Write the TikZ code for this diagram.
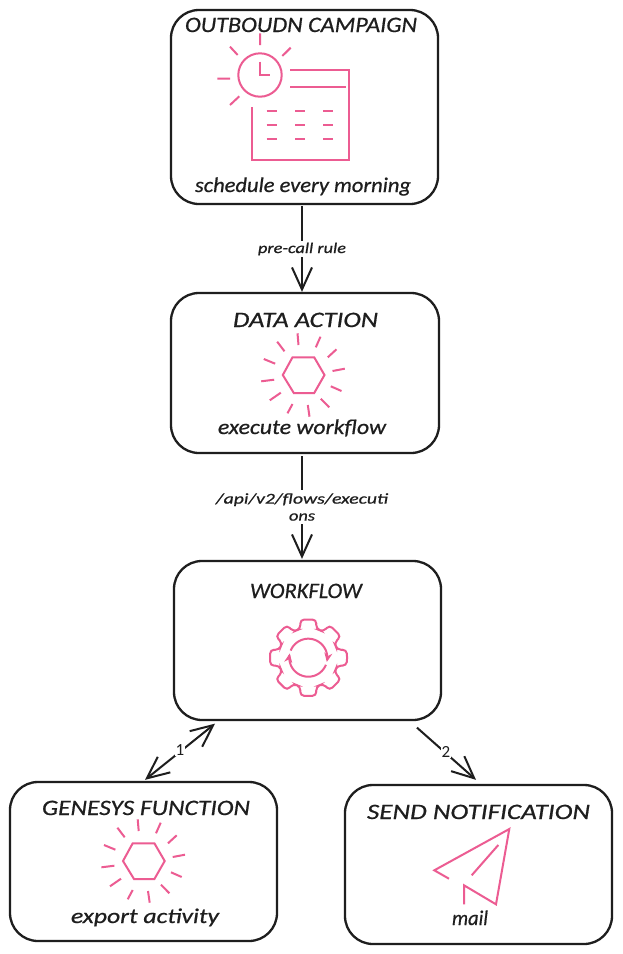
\documentclass[tikz,border=0pt]{standalone}
\usepackage{fontspec}
\usepackage{graphicx}
\setmainfont{Carlito}
\usetikzlibrary{arrows.meta,calc}
\definecolor{ink}{HTML}{1E1E1E}
\definecolor{rosy}{HTML}{EC5C92}
\newcommand{\fitw}[3]{\fontsize{#2}{#2}\selectfont\itshape\addfontfeature{FakeBold=0.6}\resizebox{#1pt}{\height}{#3}}
\tikzset{
  x=1pt,y=-1pt,
  card/.style={draw=ink,line width=2.3pt,rounded corners=28pt,fill=white,inner sep=0pt,minimum width=267pt,minimum height=#1},
  txt/.style={text=ink,inner sep=0pt,anchor=base},
  lbl/.style={text=ink,fill=white,inner sep=1.5pt,align=center},
  conn/.style={draw=ink,line width=2pt},
  tipa/.style={-{Straight Barb[length=22pt,width=20pt,line width=2pt]}},
  tipb/.style={{Straight Barb[length=22pt,width=20pt,line width=2pt]}-{Straight Barb[length=22pt,width=20pt,line width=2pt]}},
  ico/.style={draw=rosy,line width=2pt},
  burst/.pic={
    \draw[ico] (-20.7,0)--(-11,-17.7)--(10.7,-17.7)--(21,0)--(10.7,18)--(-9.7,18)--cycle;
    \draw[ico] (-6,-41.7)--(-5,-30) (17,-38.3)--(12.3,-27.7) (33,-25.7)--(24.3,-17.7)
      (41.3,-6.3)--(29,-4) (38,16)--(27.3,11.3) (25.7,32.3)--(17.3,23.7)
      (6,41.7)--(4.3,30) (-16,38.3)--(-11,29) (-33.7,25.3)--(-22.7,17.7)
      (-42.3,6.3)--(-29.3,4.7) (-39.7,-16)--(-28.3,-11.3) (-26.3,-33.3)--(-19,-23.7);
  }
}
\begin{document}
\begin{tikzpicture}
\path[use as bounding box,fill=white] (0,0) rectangle (622,954);
% boxes
\node[card=194pt] (camp) at (304.5,107) {};
\node[card=160pt,minimum width=268pt] (act) at (305,373) {};
\node[card=159pt] (wf) at (307.5,640.5) {};
\node[card=159pt] (gen) at (143.5,861.5) {};
\node[card=159pt] (send) at (478.5,864.5) {};
% connectors
\draw[conn,tipa] ($(camp.south)+(-2.5,1)$) -- ($(act.north)+(-3,0)$);
\draw[conn,tipa] ($(act.south)+(-3,2)$) -- ($(wf.north)+(-5.5,-1)$);
\draw[conn,tipb] ($(gen.north)+(1.5,-1)$) -- ($(wf.south)+(-92.5,2.5)$);
\draw[conn,tipa] ($(wf.south)+(109.5,6.5)$) -- ($(send.north)+(-2.5,-4)$);
% connector labels
\node[lbl] (l1) at (302,249) {\fitw{88}{15}{pre-call rule}};
\node[lbl,inner ysep=3pt] (l2) at (302,507) {\fitw{172}{15}{/api/v2/flows/executi}\\[5pt]\fitw{26}{15}{ons}};
\node[lbl,inner sep=0.5pt] (l3) at (180,750) {\fontsize{17}{17}\selectfont 1};
\node[lbl,inner sep=0.5pt] (l4) at (446,752) {\fontsize{17}{17}\selectfont 2};
% titles
\node[txt] (t1) at (301,32) {\fitw{232}{22}{OUTBOUDN CAMPAIGN}};
\node[txt] (s1) at (303,192) {\fitw{216}{21}{schedule every morning}};
\node[txt] (t2) at (305.5,327) {\fitw{145}{22}{DATA ACTION}};
\node[txt] (s2) at (302,434) {\fitw{168}{21}{execute workflow}};
\node[txt] (t3) at (306,598) {\fitw{112}{22}{WORKFLOW}};
\node[txt] (t4) at (146,815) {\fitw{208}{22}{GENESYS FUNCTION}};
\node[txt] (s4) at (145,923) {\fitw{148}{21}{export activity}};
\node[txt] (t5) at (478.5,819) {\fitw{223}{22}{SEND NOTIFICATION}};
\node[txt] (s5) at (470,925) {\fitw{36}{21}{mail}};
% clock + calendar
\draw[ico] (260,75) circle[radius=21.7pt];
\draw[ico] (260,61.7)--(260,75)--(270,75);
\draw[ico] (260,33.3)--(260,45) (230,46.7)--(237.7,55) (290.7,47.7)--(282.3,56)
  (217.3,78.7)--(230,78.7) (230,105)--(239.3,96.3);
\draw[ico] (290,70)--(349.3,70)--(349.3,160)--(252,160)--(252,107.3);
\draw[ico] (290,86.7)--(346,86.7);
\foreach \yy in {110.7,125,139}{
  \draw[ico] (266.7,\yy)--(276.7,\yy) (295,\yy)--(305,\yy) (323.3,\yy)--(333.3,\yy);
}
% bursts
\pic at (303.5,375) {burst};
\pic at (143.7,861) {burst};
% gear
\begin{scope}[shift={(308.3,657.7)}]
\draw[ico,rounded corners=4pt] (0:39)
  \foreach \a in {0,45,...,315}{
    -- (\a+12:39) -- (\a+15:30) -- (\a+30:30) -- (\a+33:39)
  } -- cycle;
\draw[ico,-{Stealth[length=9pt,width=8pt]}] plot[domain=202:373,samples=30] ({19*cos(\x)},{19*sin(\x)});
\draw[ico,-{Stealth[length=9pt,width=8pt]}] plot[domain=22:193,samples=30] ({19*cos(\x)},{19*sin(\x)});
\end{scope}
% plane
\draw[ico] (449,878.7)--(434.3,870.3)--(509.3,829)--(496,904.3)--(464,885.3)--(464,904.3);
\draw[ico] (498.3,845)--(471.7,875.3);
\end{tikzpicture}
\end{document}
